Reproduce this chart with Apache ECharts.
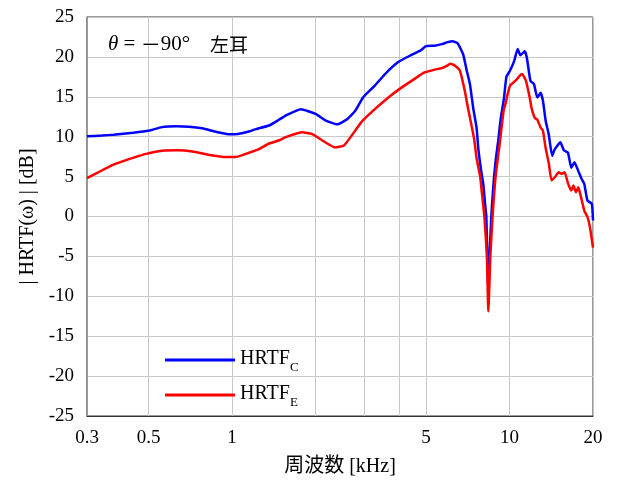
<!DOCTYPE html>
<html><head><meta charset="utf-8">
<script src="https://cdn.jsdelivr.net/npm/echarts@6/dist/echarts.min.js"></script>
<style>html,body{margin:0;padding:0;background:#fff}#c{width:619px;height:484px}</style>
</head><body><div id="c"></div>
<script>
var freqC = [0.3,0.34,0.374,0.44,0.5,0.559,0.63,0.70,0.78,0.88,0.98,1.05,1.15,1.22,1.36,1.48,1.56,1.77,2.0,2.17,2.39,2.59,2.78,2.97,3.27,3.56,3.97,4.43,4.8,5.0,5.37,5.7,5.99,6.24,6.5,6.81,7.0,7.2,7.4,7.61,7.72,7.9,8.05,8.17,8.25,8.32,8.39,8.47,8.6,8.67,8.8,8.95,9.1,9.3,9.55,9.75,10.05,10.4,10.7,10.95,11.35,11.55,11.9,12.25,12.6,12.95,13.2,13.5,13.85,14.25,14.55,15.25,15.7,16.25,16.7,17.15,17.7,18.2,18.6,19.1,19.8,20];
var valsC = [10.05,10.15,10.25,10.5,10.75,11.2,11.3,11.25,11.05,10.6,10.3,10.35,10.65,10.95,11.4,12.15,12.65,13.45,12.85,12.05,11.55,12.15,13.25,14.95,16.4,17.85,19.35,20.25,20.85,21.35,21.4,21.6,21.85,21.95,21.7,20.3,18.4,16.6,13.6,11.1,8.5,5.8,4.0,1.5,0,-5,-10,-5,0,2,5,7.5,9.4,12.3,14.8,17.5,18.3,19.5,21.0,20.2,20.7,19.9,17.0,16.6,14.9,15.5,14.5,12.0,10.3,7.6,8.4,9.3,8.3,8.0,6.1,6.8,5.7,4.7,4.1,2.0,1.6,-0.5];
var freqE = [0.3,0.374,0.44,0.49,0.559,0.64,0.72,0.82,0.95,1.03,1.12,1.25,1.36,1.48,1.56,1.79,1.94,2.11,2.35,2.53,2.7,2.93,3.27,3.67,4.08,4.55,4.94,5.37,5.7,5.99,6.12,6.36,6.63,6.9,7.08,7.4,7.48,7.61,7.84,7.95,8.12,8.29,8.39,8.53,8.69,8.91,9.24,9.52,9.7,9.84,10.05,10.54,10.9,11.1,11.45,11.82,12.0,12.34,12.6,12.94,13.2,13.49,13.86,14.17,14.6,15.04,15.4,15.8,16.25,16.7,17.0,17.35,17.7,18.1,18.6,19.1,19.5,20];
var valsE = [4.8,6.5,7.35,7.85,8.25,8.3,8.15,7.75,7.45,7.45,7.85,8.45,9.15,9.55,9.95,10.55,10.35,9.55,8.65,8.9,10.15,11.85,13.45,14.95,16.15,17.25,18.05,18.4,18.6,18.95,19.15,18.9,18.25,15.75,13.65,10.35,9.4,7.3,5.0,3.0,0,-5,-11.9,-5,0,5,9.4,13.2,14.3,15.3,16.4,17.05,17.65,17.85,17.05,14.95,13.65,12.35,12.15,11.15,10.75,8.65,6.65,4.55,4.95,5.55,5.35,5.55,4.15,3.25,3.9,3.05,3.65,2.45,0.75,-0.05,-1.35,-3.9];
var xLabelValues = [0.3,0.5,1,5,10,20];
var xGridValues = [0.3,0.5,1,2,3,4,5,10,20];
var seriesNames = ['HRTF_C','HRTF_E'];

function zip(f, v){ return f.map(function(x,i){ return [x, v[i]]; }); }

var serif = 'Liberation Serif, Times New Roman, serif';
var cjk = 'Liberation Serif, Noto Sans CJK JP, serif';
var chart = echarts.init(document.getElementById('c'), null, {renderer:'canvas'});
chart.setOption({
  animation: false,
  backgroundColor: '#fff',
  grid: {left: 87, top: 17, right: 26, bottom: 68, show: true, borderColor: '#333', borderWidth: 1, backgroundColor: 'transparent'},
  title: {
    left: 103, top: 29,
    text: '{i|θ}{n| = }{m|－}{n|90°}{g|　}{c|左耳}',
    textStyle: {
      fontWeight: 'normal',
      rich: {
        i: {fontFamily: serif, fontStyle: 'italic', fontWeight: 'normal', fontSize: 21, color: '#000'},
        n: {fontFamily: serif, fontWeight: 'normal', fontSize: 21, color: '#000'},
        m: {fontFamily: 'Noto Sans CJK JP', fontWeight: 'normal', fontSize: 20, color: '#000'},
        g: {fontFamily: 'Noto Sans CJK JP', fontWeight: 'normal', fontSize: 20, color: '#000'},
        c: {fontFamily: 'Noto Sans CJK JP', fontWeight: 'normal', fontSize: 19, color: '#000'}
      }
    }
  },
  legend: {
    orient: 'vertical', left: 160, top: 344, itemGap: 10,
    icon: 'rect', itemWidth: 70, itemHeight: 3,
    data: seriesNames,
    formatter: function(name){ var p = name.split('_'); return '{a|' + p[0] + '}{b|' + p[1] + '}'; },
    textStyle: {
      rich: {
        a: {fontFamily: serif, fontSize: 20, lineHeight: 22, verticalAlign: 'top', color: '#000'},
        b: {fontFamily: serif, fontSize: 13, lineHeight: 13, padding: [12,0,0,0], verticalAlign: 'top', color: '#000'}
      }
    }
  },
  xAxis: {
    type: 'log', logBase: 10, min: 0.3, max: 20,
    name: '周波数 [kHz]', nameLocation: 'middle', nameGap: 41,
    nameTextStyle: {fontFamily: cjk, fontSize: 20, color: '#000'},
    axisLine: {show: true, onZero: false, lineStyle: {color: '#333', width: 1}},
    axisTick: {show: false, customValues: xGridValues},
    axisLabel: {customValues: xLabelValues, fontFamily: serif, fontSize: 19, color: '#000', margin: 13,
      formatter: function(v){ return String(+v.toPrecision(3)); }},
    splitLine: {show: true, lineStyle: {color: '#c8c8c8', width: 1}},
    minorSplitLine: {show: false}
  },
  yAxis: {
    type: 'value', min: -25, max: 25, interval: 5,
    name: '| HRTF(ω) | [dB]', nameLocation: 'middle', nameGap: 49,
    nameTextStyle: {fontFamily: serif, fontSize: 20, color: '#000'},
    axisLine: {show: true, onZero: false, lineStyle: {color: '#8c8c8c', width: 1.5}},
    axisTick: {show: false},
    axisLabel: {fontFamily: serif, fontSize: 19, color: '#000', margin: 13},
    splitLine: {show: true, lineStyle: {color: '#c8c8c8', width: 1}}
  },
  series: [
    {name: seriesNames[0], type: 'line', data: zip(freqC, valsC), symbol: 'none', smooth: 0.15,
     lineStyle: {color: '#0000ff', width: 2.5}, itemStyle: {color: '#0000ff'}},
    {name: seriesNames[1], type: 'line', data: zip(freqE, valsE), symbol: 'none', smooth: 0.15,
     lineStyle: {color: '#ff0000', width: 2.5}, itemStyle: {color: '#ff0000'}}
  ]
});
</script></body></html>
